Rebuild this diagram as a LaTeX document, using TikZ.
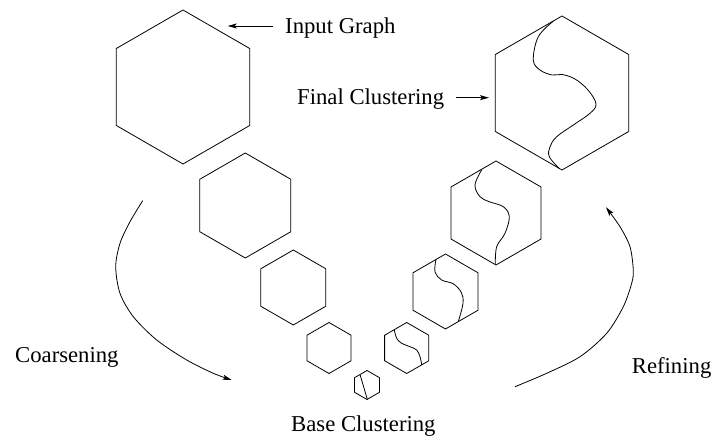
\documentclass[tikz,border=0pt]{standalone}
\usepackage{fontspec}
\setmainfont{Liberation Serif}
\usetikzlibrary{shapes.geometric,arrows.meta}
\begin{document}
\begin{tikzpicture}[x=1pt,y=-1pt,
  hexa/.style={draw, regular polygon, regular polygon sides=6, shape border rotate=30, inner sep=0pt, outer sep=0pt, minimum size=#1, line width=0.8pt},
  lbl/.style={anchor=base west, inner sep=0pt, font=\fontsize{22.7}{27}\selectfont},
  cut/.style={line width=0.8pt},
  arr/.style={line width=0.8pt, -{Stealth[length=9pt,width=5pt,inset=2pt]}}
]
\useasboundingbox (0,0) rectangle (724,446);
% hexagons, coarsening side
\node[hexa=154] (h1) at (183,87) {};
\node[hexa=105] (h2) at (245.3,205.5) {};
\node[hexa=75] (h3) at (293.3,287.5) {};
\node[hexa=51] (h4) at (329,348) {};
\node[hexa=29] (hb) at (367,385) {};
% hexagons, refining side
\node[hexa=51] (r4) at (406.7,348) {};
\node[hexa=75] (r3) at (445.5,291.5) {};
\node[hexa=104] (r2) at (496,213) {};
\node[hexa=154] (r1) at (562,93) {};
% cluster cuts
\draw[cut] (360,374.5) -- (367.3,399.3);
\draw[cut] plot[smooth, tension=0.6] coordinates {(394.3,329.8) (396.7,338.3) (401.7,343.3) (410,346.7) (416.7,350) (420,356.7) (421.7,364.8)};
\draw[cut] plot[smooth, tension=0.6] coordinates {(436,259.5) (435,272) (441.7,280) (453.3,283.8) (461.3,292.5) (463,303.3) (458.3,321.6)};
\draw[cut] plot[smooth, tension=0.6] coordinates {(481.7,169.8) (475,185) (480,196.7) (489.3,201.7) (503.3,206.7) (509.3,216.7) (505,233.3) (496.7,246.7) (495.3,264)};
\draw[cut] plot[smooth, tension=0.6] coordinates {(553.3,21.2) (538.3,36.7) (533.3,60) (540,70) (552,75) (562,74.5) (575,79) (588,90) (596,104) (590,113.3) (573.3,125) (556.7,136.7) (550,146.7) (549.3,156.7) (559,168.3)};
% labels
\node[lbl] (ig) at (285,33.3) {Input Graph};
\node[lbl] (fc) at (297,104.3) {Final Clustering};
\node[lbl] (co) at (15,362.3) {Coarsening};
\node[lbl] (bc) at (291,431.7) {Base Clustering};
\node[lbl] (rf) at (631.7,374) {Refining};
% pointer arrows
\coordinate (igtip) at (227.7,26);
\draw[arr, shorten <=11.7pt] (ig.west |- igtip) -- (igtip);
\coordinate (fctip) at (489,97.7);
\draw[arr, shorten <=11.3pt] (fc.east |- fctip) -- (fctip);
% process arcs
\draw[arr] plot[smooth] coordinates {(142.7,200.7) (130,221.7) (120,243.3) (115.7,266.7) (120,293.3) (133.3,316.7) (156.7,340) (186.7,360) (213.3,373.3) (231.7,380)};
\draw[arr] plot[smooth] coordinates {(515,386.7) (546.7,373.3) (580,356.7) (606.7,333.3) (623.3,306.7) (631.7,283.3) (633.3,270) (630,246.7) (620,226.7) (606,207.3)};
\end{tikzpicture}
\end{document}
